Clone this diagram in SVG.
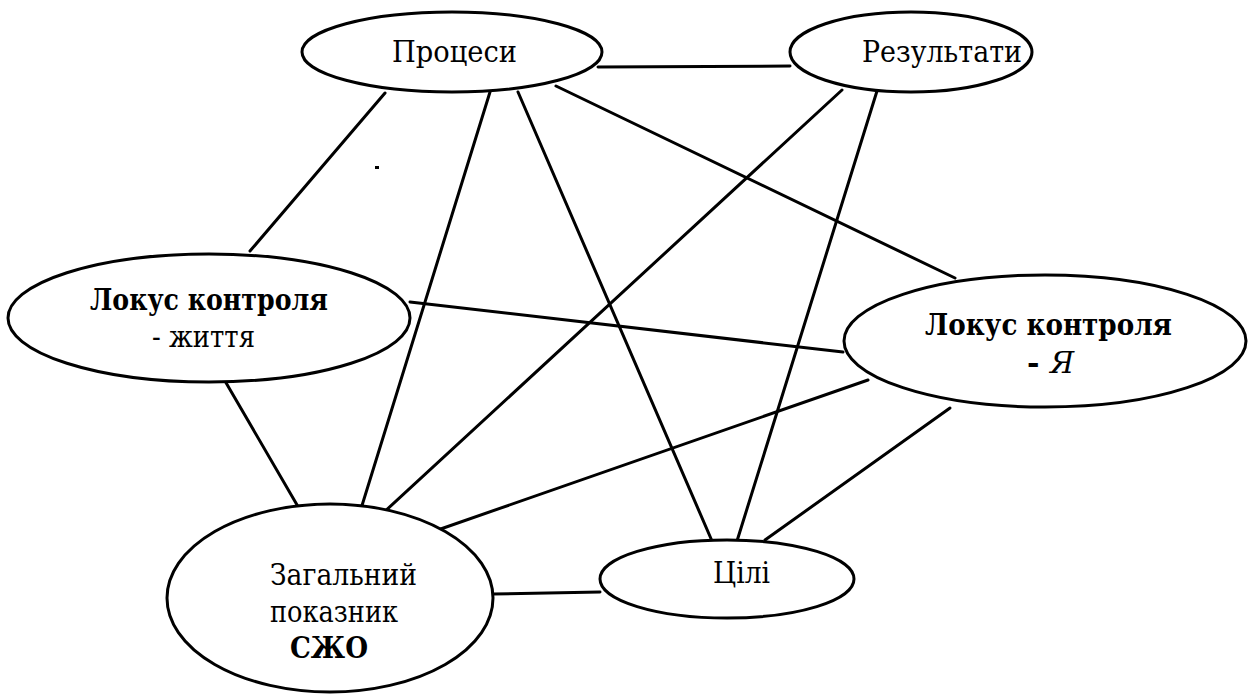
<svg xmlns="http://www.w3.org/2000/svg" width="1248" height="695" viewBox="0 0 1248 695">
<style>
.n{fill:#fff;stroke:#000;stroke-width:3}
.e line{stroke:#000;stroke-width:3;stroke-linecap:round}
.b{font-weight:bold}
</style>
<rect width="1248" height="695" fill="#fff"/>
<g id="connectors" class="e">
<line x1="598" y1="67" x2="790" y2="66"/>
<line x1="385" y1="93" x2="250" y2="251"/>
<line x1="490" y1="92" x2="360" y2="512"/>
<line x1="518" y1="92" x2="712" y2="541"/>
<line x1="556" y1="86" x2="955" y2="278"/>
<line x1="842" y1="90" x2="382" y2="514"/>
<line x1="877" y1="91" x2="737" y2="541"/>
<line x1="410" y1="302" x2="843" y2="352"/>
<line x1="225" y1="381" x2="300" y2="510"/>
<line x1="868" y1="380" x2="432" y2="532"/>
<line x1="950" y1="408" x2="765" y2="540"/>
<line x1="493" y1="594" x2="600" y2="592"/>
</g>
<rect x="375" y="166" width="4" height="3" fill="#000"/>
<g font-family="'DejaVu Serif', 'Liberation Serif', serif" font-size="30" fill="#000">
<g id="n-procesy">
<ellipse class="n" cx="452" cy="52" rx="150" ry="40"/>
<text x="392" y="62" textLength="125" lengthAdjust="spacingAndGlyphs">Процеси</text>
</g>
<g id="n-rezultaty">
<ellipse class="n" cx="911" cy="52" rx="121" ry="40"/>
<text x="862" y="62" textLength="160" lengthAdjust="spacingAndGlyphs">Результати</text>
</g>
<g id="n-lokus-zhyttia">
<ellipse class="n" cx="209" cy="318" rx="201" ry="64"/>
<text class="b" x="90" y="310" textLength="238" lengthAdjust="spacingAndGlyphs">Локус контроля</text>
<text x="152" y="347" textLength="103" lengthAdjust="spacingAndGlyphs">- життя</text>
</g>
<g id="n-lokus-ya">
<ellipse class="n" cx="1045" cy="341" rx="201" ry="66"/>
<text class="b" x="925" y="335" textLength="247" lengthAdjust="spacingAndGlyphs">Локус контроля</text>
<text class="b" x="1027" y="373">- <tspan font-style="italic" font-weight="normal">Я</tspan></text>
</g>
<g id="n-szho">
<ellipse class="n" cx="330" cy="598" rx="163" ry="94"/>
<text x="270" y="585" textLength="147" lengthAdjust="spacingAndGlyphs">Загальний</text>
<text x="270" y="622" textLength="128" lengthAdjust="spacingAndGlyphs">показник</text>
<text class="b" x="290" y="658" textLength="78" lengthAdjust="spacingAndGlyphs">СЖО</text>
</g>
<g id="n-tsili">
<ellipse class="n" cx="727" cy="579" rx="127" ry="39"/>
<text x="713" y="583" textLength="57" lengthAdjust="spacingAndGlyphs">Цілі</text>
</g>
</g>
</svg>
